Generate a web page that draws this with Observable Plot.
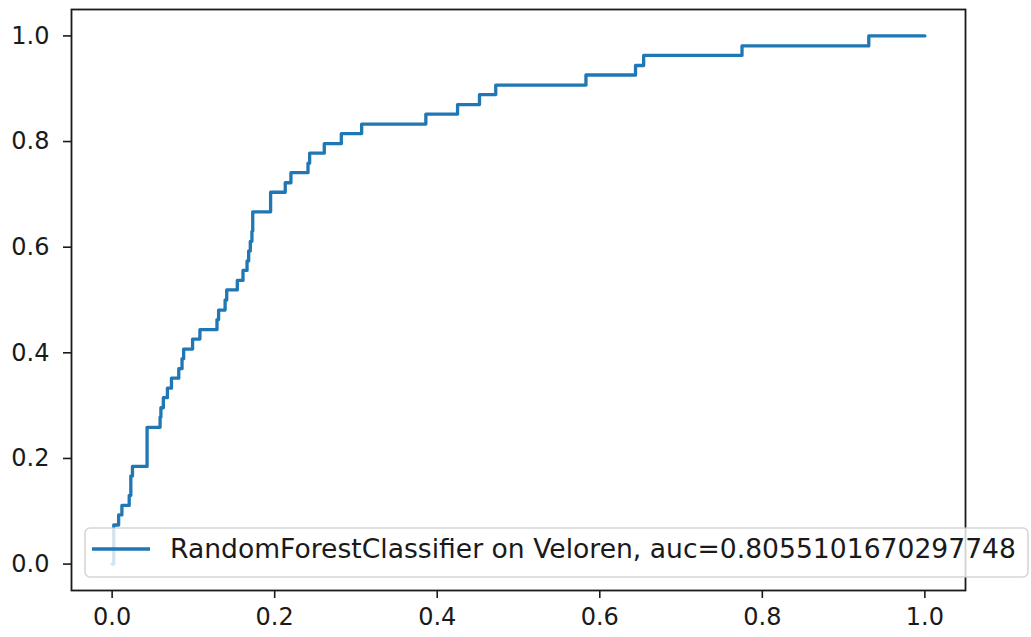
<!DOCTYPE html>
<html>
<head>
<meta charset="utf-8">
<script src="https://cdn.jsdelivr.net/npm/d3@7"></script>
<script src="https://cdn.jsdelivr.net/npm/@observablehq/plot@0.6"></script>
<style>
  html, body { margin: 0; padding: 0; background: #fff; }
</style>
</head>
<body>
<div id="chart"></div>
<script>
// ROC curve points (false positive rate, true positive rate)
const fpr = [0, 0.002, 0.008, 0.012, 0.021, 0.023, 0.025,
             0.043, 0.059, 0.060, 0.063, 0.068, 0.073, 0.082,
             0.086, 0.088, 0.099, 0.108, 0.129, 0.131, 0.139,
             0.141, 0.154, 0.161, 0.166, 0.168, 0.170, 0.172,
             0.173, 0.195, 0.213, 0.220, 0.241, 0.243, 0.261,
             0.282, 0.307, 0.386, 0.425, 0.452, 0.472, 0.583,
             0.644, 0.654, 0.775, 0.931, 1.0];
const tpr = [0, 0.074, 0.093, 0.111, 0.130, 0.167, 0.185,
             0.259, 0.278, 0.296, 0.315, 0.333, 0.352, 0.370,
             0.389, 0.407, 0.426, 0.444, 0.463, 0.481, 0.500,
             0.519, 0.537, 0.556, 0.574, 0.593, 0.611, 0.630,
             0.667, 0.704, 0.722, 0.741, 0.759, 0.778, 0.796,
             0.815, 0.833, 0.852, 0.870, 0.889, 0.907, 0.926,
             0.944, 0.963, 0.981, 1.0, 1.0];
const xTicks = [0, 0.2, 0.4, 0.6, 0.8, 1.0];
const yTicks = [0, 0.2, 0.4, 0.6, 0.8, 1.0];
const seriesLabel = "RandomForestClassifier on Veloren, auc=0.8055101670297748";

const roc = fpr.map((x, i) => ({fpr: x, tpr: tpr[i]}));
const blue = "#1f77b4";
const ink = "#1a1a1a";

const chart = Plot.plot({
  width: 1031,
  height: 637,
  marginLeft: 71,
  marginRight: 66,
  marginTop: 9,
  marginBottom: 47,
  style: {fontFamily: "DejaVu Sans", fontSize: "24px", color: ink, background: "#fff"},
  x: {domain: [-0.05, 1.05]},
  y: {domain: [-0.05, 1.05]},
  marks: [
    Plot.line(roc, {x: "fpr", y: "tpr", curve: "step-after", stroke: blue, strokeWidth: 3.3}),
    Plot.frame({stroke: ink, strokeWidth: 1.8}),
    Plot.axisX({ticks: xTicks, tickFormat: d3.format(".1f"), tickSize: 8, tickPadding: 9, label: null, stroke: ink, strokeWidth: 1.6}),
    Plot.axisY({ticks: yTicks, tickFormat: d3.format(".1f"), tickSize: 8, tickPadding: 14, label: null, stroke: ink, strokeWidth: 1.6})
  ]
});
document.getElementById("chart").appendChild(chart);

// Legend box in the lower-left corner, drawn above the axes
const svg = d3.select(chart);
const lg = svg.append("g").attr("text-anchor", "start");
lg.append("rect")
  .attr("x", 85).attr("y", 528).attr("width", 943).attr("height", 49)
  .attr("rx", 5)
  .attr("fill", "#fff").attr("fill-opacity", 0.8)
  .attr("stroke", "#cccccc").attr("stroke-opacity", 0.8).attr("stroke-width", 1.6);
lg.append("line")
  .attr("x1", 92).attr("x2", 150).attr("y1", 549).attr("y2", 549)
  .attr("stroke", blue).attr("stroke-width", 3.3);
lg.append("text")
  .attr("x", 170).attr("y", 558)
  .attr("text-anchor", "start")
  .style("font-family", "DejaVu Sans").style("font-size", "26.6px")
  .attr("fill", ink)
  .text(seriesLabel);
</script>
</body>
</html>
